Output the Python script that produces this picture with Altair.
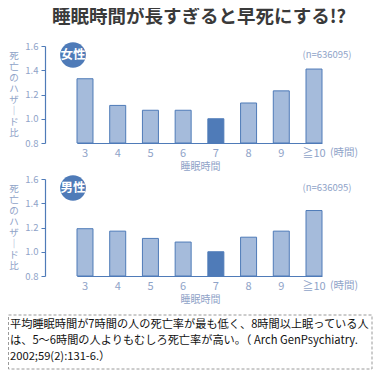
import altair as alt
import pandas as pd

hours = ["3", "4", "5", "6", "7", "8", "9", "≧10"]
female = [1.33, 1.11, 1.07, 1.07, 1.00, 1.13, 1.23, 1.41]
male = [1.19, 1.17, 1.11, 1.08, 1.00, 1.12, 1.17, 1.34]
y_ticks = [0.8, 1.0, 1.2, 1.4, 1.6]
title_text = "睡眠時間が長すぎると早死にする!?"
ytitle_chars = ["死", "亡", "の", "ハ", "ザ", "｜", "ド", "比"]
x_title = "睡眠時間"
sample_label = "(n=636095)"
unit_label = "(時間)"
badges = ["女性", "男性"]
note_lines = [
    "平均睡眠時間が7時間の人の死亡率が最も低く、8時間以上眠っている人",
    "は、5～6時間の人よりもむしろ死亡率が高い。（ Arch GenPsychiatry.",
    "2002;59(2):131-6.）",
]

BLUE = "#4f7bb8"
LIGHT = "#a5bbdb"
GB = "#8fa3c8"
FONT = "Noto Sans CJK JP"
W, H = 321, 97

xscale = alt.Scale(paddingInner=0.511, paddingOuter=0, range=[32, 277])


def panel(values, badge, top=False, bottom=False):
    df = pd.DataFrame({"hours": hours, "ratio": values})
    x = alt.X(
        "hours:N", sort=hours, scale=xscale,
        axis=alt.Axis(
            title=x_title, labelAngle=0, ticks=False, domainColor=BLUE,
            labelColor=GB, labelFontSize=11, labelPadding=4, labelFont=FONT,
            titleColor=GB, titleFontSize=10, titleFontWeight="normal",
            titleFont=FONT, titleX=155, titleY=18, titleBaseline="top",
        ),
    )
    y = alt.Y(
        "ratio:Q",
        scale=alt.Scale(domain=[0.8, 1.6], zero=False, nice=False),
        axis=alt.Axis(
            values=y_ticks, format=".1f", title=None, grid=False,
            domainColor=BLUE, tickColor=BLUE, tickSize=4, labelColor=GB,
            labelFontSize=9.5, labelPadding=3, labelFont=FONT,
        ),
    )
    bars = alt.Chart(df).mark_bar(stroke=BLUE, strokeWidth=1).encode(
        x=x, y=y, y2=alt.datum(0.8),
        fill=alt.when(alt.datum.hours == "7").then(alt.value(BLUE)).otherwise(alt.value(LIGHT)),
    )
    ann = pd.DataFrame({"badge": [badge], "n": [sample_label], "hours": ["≧10"], "unit": [unit_label]})
    base = alt.Chart(ann)
    circle = base.mark_circle(size=660, color=BLUE, opacity=1).encode(
        x=alt.value(28), y=alt.value(9))
    btext = base.mark_text(color="white", fontWeight="bold", fontSize=12.5, font=FONT).encode(
        x=alt.value(28), y=alt.value(9), text="badge:N")
    ntext = base.mark_text(color=GB, fontSize=9.5, font=FONT).encode(
        x=alt.value(282), y=alt.value(9), text="n:N")
    unit = base.mark_text(color=GB, fontSize=10.5, font=FONT, align="left", baseline="top", dx=16).encode(
        x=alt.X("hours:N", sort=hours, scale=xscale), y=alt.value(H + 4.5), text="unit:N")
    ytitle = base.mark_text(color=GB, fontSize=9.5, font=FONT, baseline="top", lineHeight=11).encode(
        x=alt.value(-31), y=alt.value(5), text=alt.value(ytitle_chars))
    layers = [bars, circle, btext, ntext, unit, ytitle]
    if top:
        layers.append(base.mark_text(color="#3a3a3a", fontSize=18.5, fontWeight="bold", font=FONT,
                                     baseline="top").encode(
            x=alt.value(154), y=alt.value(-38), text=alt.value(title_text)))
    if bottom:
        layers.append(base.mark_rect(fill=None, stroke="#9a9a9a", strokeDash=[3, 2], strokeWidth=1).encode(
            x=alt.value(-36.5), x2=alt.value(327), y=alt.value(136), y2=alt.value(190)))
        layers.append(base.mark_text(color="#111111", fontSize=11.2, font=FONT, align="left",
                                     baseline="top", lineHeight=16).encode(
            x=alt.value(-35), y=alt.value(140), text=alt.value(note_lines)))
    return alt.layer(*layers).properties(width=W, height=H)


chart = alt.vconcat(
    panel(female, badges[0], top=True),
    panel(male, badges[1], bottom=True),
    spacing=36, bounds="flush",
).properties(padding=0).configure_view(stroke=None).configure_axis(domainWidth=1.2)

chart.save("out.html", embed_options={"renderer": "svg", "actions": False})
